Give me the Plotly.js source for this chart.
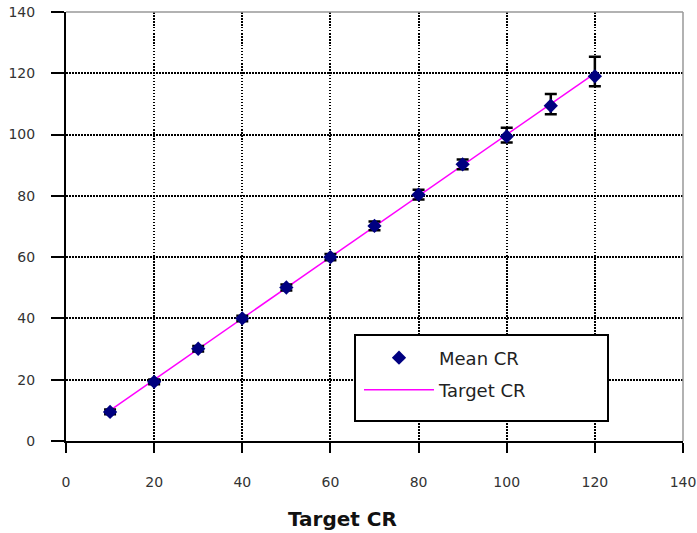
<!DOCTYPE html>
<html>
<head>
<meta charset="utf-8">
<script src="https://cdn.plot.ly/plotly-3.0.1.min.js"></script>
<style>html,body{margin:0;padding:0;background:#fff;}</style>
</head>
<body>
<div id="chart" style="width:697px;height:533px;"></div>
<script>
// Data
const targetCR = [10, 20, 30, 40, 50, 60, 70, 80, 90, 100, 110, 120];
const meanCR   = [9.5, 19.3, 30.1, 40.0, 50.1, 60.0, 70.2, 80.4, 90.3, 99.4, 109.4, 119.0];
const errPlus  = [0.8, 0.8, 0.9, 0.9, 1.0, 1.0, 1.4, 1.6, 1.6, 2.8, 3.8, 6.4];
const errMinus = [0.8, 0.8, 0.9, 0.9, 1.0, 1.0, 1.4, 1.6, 1.6, 2.0, 2.8, 3.2];
const tickVals = [0, 20, 40, 60, 80, 100, 120, 140];
const seriesNames = ['Mean CR', 'Target CR'];
const xTitle = 'Target CR';

const font = 'DejaVu Sans, Liberation Sans, Arial, sans-serif';
const L = 66, R = 683, T = 12, B = 441;   // plot area in pixels
const px = v => (v - L) / (R - L);
const py = v => (B - v) / (B - T);

const traces = [
  {
    x: targetCR, y: targetCR, name: seriesNames[1], type: 'scatter', mode: 'lines',
    line: {color: '#ff00ff', width: 1.5},
    legend: 'legend2'
  },
  {
    x: targetCR, y: meanCR, name: seriesNames[0], type: 'scatter', mode: 'markers',
    marker: {symbol: 'diamond', size: 11, color: '#000080'},
    error_y: {type: 'data', symmetric: false, array: errPlus, arrayminus: errMinus,
              color: '#000000', thickness: 2.5, width: 6},
    legend: 'legend'
  }
];

const axisCommon = {
  range: [0, 140], tickvals: tickVals, ticktext: tickVals.map(String),
  showgrid: true, gridcolor: '#000000', gridwidth: 2, griddash: '1.5px,1.5px',
  showline: true, linecolor: '#000000', linewidth: 2,
  ticks: 'outside', tickcolor: '#000000', tickwidth: 2,
  zeroline: false, fixedrange: true,
  tickfont: {family: font, size: 14, color: '#333333'}
};

const legendCommon = {
  xanchor: 'left', yanchor: 'middle', x: px(359),
  bgcolor: 'rgba(0,0,0,0)', borderwidth: 0,
  font: {family: font, size: 18, color: '#222222'},
  itemwidth: 70
};

const layout = {
  width: 697, height: 533,
  margin: {l: L, r: 697 - R, t: T, b: 533 - B},
  paper_bgcolor: '#ffffff', plot_bgcolor: '#ffffff',
  showlegend: true,
  xaxis: Object.assign({}, axisCommon, {ticklen: 10, ticklabelstandoff: 17}),
  yaxis: Object.assign({}, axisCommon, {ticklen: 13, ticklabelstandoff: 13}),
  legend: Object.assign({}, legendCommon, {y: py(358)}),
  legend2: Object.assign({}, legendCommon, {y: py(390)}),
  shapes: [
    {type: 'line', xref: 'paper', yref: 'paper', x0: 0, x1: 1, y0: 1, y1: 1,
     line: {color: '#999999', width: 1.5}, layer: 'above'},
    {type: 'line', xref: 'paper', yref: 'paper', x0: 1, x1: 1, y0: 0, y1: 1,
     line: {color: '#999999', width: 1.5}, layer: 'above'},
    // legend frame
    {type: 'rect', xref: 'paper', yref: 'paper', x0: px(355), x1: px(608), y0: py(421), y1: py(335),
     line: {color: '#000000', width: 2}, fillcolor: '#ffffff', layer: 'above'}
  ],
  annotations: [
    {text: '<b>' + xTitle + '</b>', xref: 'paper', yref: 'paper',
     x: px(342), y: 0, yshift: -78, xanchor: 'center', yanchor: 'middle',
     showarrow: false, font: {family: font, size: 20, color: '#111111'}}
  ]
};

Plotly.newPlot('chart', traces, layout, {displayModeBar: false, staticPlot: true});
</script>
</body>
</html>
